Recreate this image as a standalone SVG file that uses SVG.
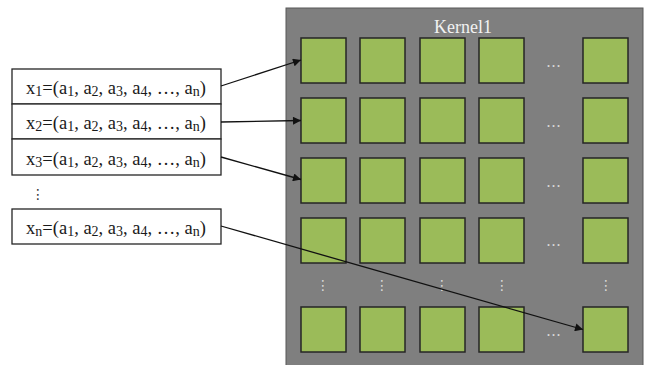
<svg xmlns="http://www.w3.org/2000/svg" width="655" height="365" viewBox="0 0 655 365">
<style>
.box{fill:#fff;stroke:#262626;stroke-width:1.3}
.lbl{font-family:"Liberation Serif","Times New Roman",serif;font-size:18.5px;fill:#1a1a1a;text-anchor:middle}
.sub{font-size:14px}
.cell{fill:#9BBB59;stroke:#262626;stroke-width:1.5}
.hd{font-family:"Liberation Serif",serif;font-size:16px;fill:#d9d9d9;text-anchor:middle;letter-spacing:1px}
.vd{font-family:"DejaVu Sans",sans-serif;font-size:14px;fill:#d9d9d9;text-anchor:middle}
.conn{stroke:#111;stroke-width:1.3;fill:none;marker-end:url(#ah)}
</style>
<defs>
<marker id="ah" viewBox="0 0 10 10" refX="10" refY="5" markerWidth="10" markerHeight="8" markerUnits="userSpaceOnUse" orient="auto">
<path d="M0,0 L10,5 L0,10 z" fill="#111"/>
</marker>
</defs>

<g id="kernel1">
<rect x="286" y="8" width="357" height="362" fill="#7F7F7F" stroke="#595959" stroke-width="1"/>
<text x="463" y="32.5" font-family="'Liberation Serif',serif" font-size="18" fill="#F2F2F2" text-anchor="middle">Kernel1</text>
</g>

<g id="grid">
<g id="row1">
<rect class="cell" x="301" y="38" width="45" height="45"/>
<rect class="cell" x="360" y="38" width="45" height="45"/>
<rect class="cell" x="420" y="38" width="45" height="45"/>
<rect class="cell" x="479" y="38" width="45" height="45"/>
<rect class="cell" x="583" y="38" width="45" height="45"/>
<text class="hd" x="554" y="67">...</text>
</g>
<g id="row2">
<rect class="cell" x="301" y="98" width="45" height="45"/>
<rect class="cell" x="360" y="98" width="45" height="45"/>
<rect class="cell" x="420" y="98" width="45" height="45"/>
<rect class="cell" x="479" y="98" width="45" height="45"/>
<rect class="cell" x="583" y="98" width="45" height="45"/>
<text class="hd" x="554" y="127">...</text>
</g>
<g id="row3">
<rect class="cell" x="301" y="158" width="45" height="45"/>
<rect class="cell" x="360" y="158" width="45" height="45"/>
<rect class="cell" x="420" y="158" width="45" height="45"/>
<rect class="cell" x="479" y="158" width="45" height="45"/>
<rect class="cell" x="583" y="158" width="45" height="45"/>
<text class="hd" x="554" y="187">...</text>
</g>
<g id="row4">
<rect class="cell" x="301" y="218" width="45" height="45"/>
<rect class="cell" x="360" y="218" width="45" height="45"/>
<rect class="cell" x="420" y="218" width="45" height="45"/>
<rect class="cell" x="479" y="218" width="45" height="45"/>
<rect class="cell" x="583" y="218" width="45" height="45"/>
<text class="hd" x="554" y="246">...</text>
</g>
<g id="vdots">
<text class="vd" x="323" y="290">⋮</text>
<text class="vd" x="382" y="290">⋮</text>
<text class="vd" x="442" y="290">⋮</text>
<text class="vd" x="502" y="290">⋮</text>
<text class="vd" x="606" y="290">⋮</text>
</g>
<g id="row5">
<rect class="cell" x="301" y="307" width="45" height="45"/>
<rect class="cell" x="360" y="307" width="45" height="45"/>
<rect class="cell" x="420" y="307" width="45" height="45"/>
<rect class="cell" x="479" y="307" width="45" height="45"/>
<rect class="cell" x="583" y="307" width="45" height="45"/>
<text class="hd" x="554" y="336">...</text>
</g>
</g>

<g id="x1">
<rect class="box" x="12" y="69" width="209" height="35"/>
<text class="lbl" x="116" y="94">x<tspan class="sub" dy="2">1</tspan><tspan dy="-2">=(a</tspan><tspan class="sub" dy="2">1</tspan><tspan dy="-2">, a</tspan><tspan class="sub" dy="2">2</tspan><tspan dy="-2">, a</tspan><tspan class="sub" dy="2">3</tspan><tspan dy="-2">, a</tspan><tspan class="sub" dy="2">4</tspan><tspan dy="-2">, …, a</tspan><tspan class="sub" dy="2">n</tspan><tspan dy="-2">)</tspan></text>
</g>
<g id="x2">
<rect class="box" x="12" y="104" width="209" height="35"/>
<text class="lbl" x="116" y="129">x<tspan class="sub" dy="2">2</tspan><tspan dy="-2">=(a</tspan><tspan class="sub" dy="2">1</tspan><tspan dy="-2">, a</tspan><tspan class="sub" dy="2">2</tspan><tspan dy="-2">, a</tspan><tspan class="sub" dy="2">3</tspan><tspan dy="-2">, a</tspan><tspan class="sub" dy="2">4</tspan><tspan dy="-2">, …, a</tspan><tspan class="sub" dy="2">n</tspan><tspan dy="-2">)</tspan></text>
</g>
<g id="x3">
<rect class="box" x="12" y="139" width="209" height="36"/>
<text class="lbl" x="116" y="165">x<tspan class="sub" dy="2">3</tspan><tspan dy="-2">=(a</tspan><tspan class="sub" dy="2">1</tspan><tspan dy="-2">, a</tspan><tspan class="sub" dy="2">2</tspan><tspan dy="-2">, a</tspan><tspan class="sub" dy="2">3</tspan><tspan dy="-2">, a</tspan><tspan class="sub" dy="2">4</tspan><tspan dy="-2">, …, a</tspan><tspan class="sub" dy="2">n</tspan><tspan dy="-2">)</tspan></text>
</g>
<g id="ldots">
<text x="38" y="199" font-family="'DejaVu Sans',sans-serif" font-size="14" fill="#333" text-anchor="middle">⋮</text>
</g>
<g id="xn">
<rect class="box" x="12" y="209" width="209" height="35"/>
<text class="lbl" x="116" y="234">x<tspan class="sub" dy="2">n</tspan><tspan dy="-2">=(a</tspan><tspan class="sub" dy="2">1</tspan><tspan dy="-2">, a</tspan><tspan class="sub" dy="2">2</tspan><tspan dy="-2">, a</tspan><tspan class="sub" dy="2">3</tspan><tspan dy="-2">, a</tspan><tspan class="sub" dy="2">4</tspan><tspan dy="-2">, …, a</tspan><tspan class="sub" dy="2">n</tspan><tspan dy="-2">)</tspan></text>
</g>

<g id="connectors">
<line class="conn" x1="221" y1="86" x2="301" y2="60"/>
<line class="conn" x1="221" y1="122" x2="301" y2="120.5"/>
<line class="conn" x1="221" y1="157" x2="301" y2="179.5"/>
<line class="conn" x1="221" y1="226" x2="583" y2="329.5"/>
</g>
</svg>
